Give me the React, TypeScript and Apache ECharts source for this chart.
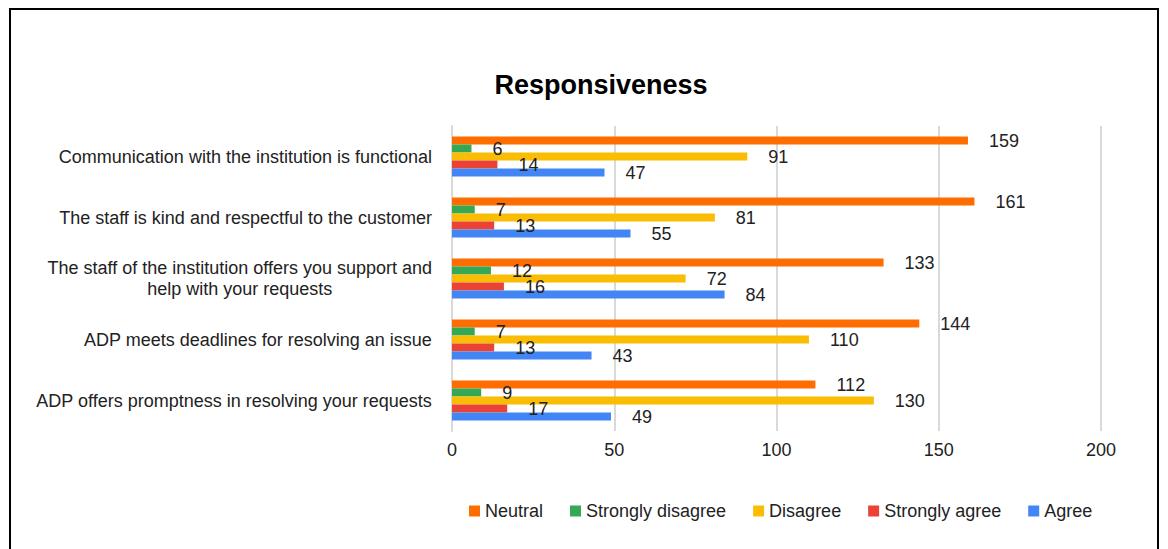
import React, { useEffect, useRef } from "react";
import * as echarts from "echarts";

const categories = [
  "Communication with the institution is functional",
  "The staff is kind and respectful to the customer",
  "The staff of the institution offers you support and\nhelp with your requests",
  "ADP meets deadlines for resolving an issue",
  "ADP offers promptness in resolving your requests",
];
const seriesNames = ["Neutral", "Strongly disagree", "Disagree", "Strongly agree", "Agree"];
const neutral = [159, 161, 133, 144, 112];
const stronglyDisagree = [6, 7, 12, 7, 9];
const disagree = [91, 81, 72, 110, 130];
const stronglyAgree = [14, 13, 16, 13, 17];
const agree = [47, 55, 84, 43, 49];
const colors = ["#FF6D01", "#34A853", "#FBBC04", "#EA4335", "#4285F4"];
const xTicks = [0, 50, 100, 150, 200];

export default function App() {
  const ref = useRef<HTMLDivElement>(null);
  useEffect(() => {
    const chart = echarts.init(ref.current!, null, { renderer: "svg" });
    const values = [neutral, stronglyDisagree, disagree, stronglyAgree, agree];
    const font = "Liberation Sans, Arial, sans-serif";
    chart.setOption({
      animation: false,
      textStyle: { fontFamily: font },
      title: {
        text: "Responsiveness",
        left: 596,
        textAlign: "center",
        top: 66,
        textStyle: { fontSize: 27, fontWeight: "bold", color: "#000", fontFamily: font },
      },
      legend: {
        data: seriesNames,
        left: 464,
        top: 497,
        itemWidth: 11,
        itemHeight: 11,
        itemGap: 27,
        icon: "rect",
        textStyle: { fontSize: 18, color: "#222", fontFamily: font },
        selectedMode: false,
      },
      grid: { left: 452, right: 67, top: 126, bottom: 118 },
      xAxis: {
        type: "value",
        min: 0,
        max: 200,
        interval: 50,
        axisLine: { show: false },
        axisTick: { show: false },
        splitLine: { lineStyle: { color: "#d9d9d9", width: 2 } },
        axisLabel: {
          fontSize: 18,
          color: "#222",
          margin: 10,
          formatter: (v: number) => (xTicks.includes(v) ? String(v) : ""),
        },
      },
      yAxis: {
        type: "category",
        data: categories,
        inverse: true,
        axisLine: { show: true, lineStyle: { color: "#d9d9d9", width: 2 } },
        axisTick: { show: false },
        axisLabel: {
          fontSize: 18,
          color: "#222",
          margin: 20,
          lineHeight: 21,
          formatter: (v: string) =>
            v.split("\n").map((l) => `{c|${l}}`).join("\n"),
          rich: { c: { align: "center", fontSize: 18, color: "#222", lineHeight: 21, fontFamily: font } },
        },
      },
      series: seriesNames.map((name, i) => ({
        name,
        type: "bar",
        data: values[i],
        barWidth: 8,
        barGap: "0%",
        itemStyle: { color: colors[i] },
        label: {
          show: true,
          position: "right",
          distance: 21,
          fontSize: 18,
          color: "#222",
          fontFamily: font,
        },
      })),
      graphic: [
        {
          type: "rect",
          shape: { x: 10, y: 9, width: 1148, height: 560 },
          style: { fill: "none", stroke: "#000", lineWidth: 2 },
        },
      ],
    });
    return () => chart.dispose();
  }, []);
  return <div ref={ref} style={{ width: 1168, height: 549, position: "absolute", left: 0, top: 0 }} />;
}
